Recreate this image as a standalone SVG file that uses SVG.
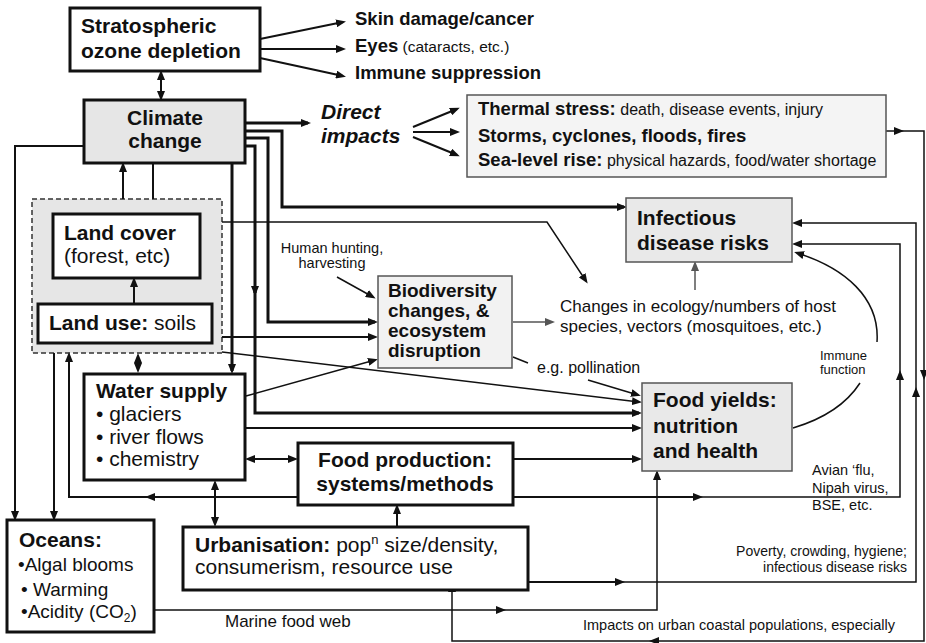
<svg xmlns="http://www.w3.org/2000/svg" width="926" height="643" viewBox="0 0 926 643">
<defs>
<marker id="ah" markerUnits="userSpaceOnUse" markerWidth="10" markerHeight="8" viewBox="0 0 10 8" refX="7" refY="4" orient="auto-start-reverse"><path d="M0,0 L10,4 L0,8 z" fill="#111"/></marker>
<marker id="ahg" markerUnits="userSpaceOnUse" markerWidth="10" markerHeight="8" viewBox="0 0 10 8" refX="7" refY="4" orient="auto-start-reverse"><path d="M0,0 L10,4 L0,8 z" fill="#555"/></marker>
</defs>
<style>
text{font-family:"Liberation Sans",Arial,sans-serif;fill:#111}
.b{font-weight:bold}
.box{fill:#fff;stroke:#111;stroke-width:3}
.gbox{stroke:#555;stroke-width:1.5}
#connectors path{fill:none;stroke:#111;stroke-width:2}
#connectors path.w3{stroke-width:3}
#connectors path.w15{stroke-width:1.5}
#connectors path.gr{stroke:#555;stroke-width:1.5}
.e{marker-end:url(#ah)}
.s{marker-start:url(#ah)}
.eg{marker-end:url(#ahg)}
.f21{font-size:21px}
.f19{font-size:19px}
.f18{font-size:18.5px}
.f17{font-size:17px}
.f16{font-size:16px}
.f15{font-size:15.5px}
.f14{font-size:14.5px}
.f13{font-size:13px}
</style>
<rect width="926" height="643" fill="#fff"/>

<g id="land">
<rect x="32" y="199" width="190" height="154" fill="#e6e6e6" stroke="#333" stroke-width="1.5" stroke-dasharray="5,3"/>
</g>

<g id="connectors">
<path class="e" d="M260,39 L343,22"/>
<path class="e" d="M260,49 L343,49"/>
<path class="e" d="M260,58 L343,76"/>
<path class="e s" d="M161,73 L161,98"/>
<path class="w3 e" d="M245,123 L308,123"/>
<path class="e" d="M413,127 L457,109"/>
<path class="e" d="M413,132 L457,132"/>
<path class="e" d="M413,137 L457,155"/>
<path class="w3 e" d="M245,131 H282 V207 H624"/>
<path class="w3 e" d="M245,138 H268 V322 H375"/>
<path class="w3 e" d="M245,146 H255 V293"/>
<path class="w3 e" d="M255,290 V413 H639"/>
<path class="w3 e" d="M232,163 V371"/>
<path class="e" d="M84,146 H15 V518"/>
<path class="e" d="M123,199 V165"/>
<path d="M153,163 V199"/>
<path class="w15 e" d="M222,222 H547 L586,281"/>
<path class="e" d="M222,337 H375"/>
<path class="w15 e" d="M222,352 L639,402"/>
<path class="e" d="M134,304 V280"/>
<path class="e s" d="M138,356 V370"/>
<path class="e" d="M54,353 V518"/>
<path class="e" d="M298,497 H148"/>
<path class="e" d="M150,497 H69 V355"/>
<path class="w15 e" d="M246,396 L375,360"/>
<path class="e" d="M246,428 H639"/>
<path class="e s" d="M248,459 H295"/>
<path class="e s" d="M215,483 V524"/>
<path class="e" d="M513,459 H639"/>
<path class="e" d="M513,497 H700"/>
<path class="w15 e" d="M697,497 H900 V373"/>
<path class="w15 e" d="M900,376 V244 H795"/>
<path class="e" d="M397,527 V507"/>
<path class="e" d="M528,582 H622"/>
<path class="w15 e" d="M619,582 H916 V390"/>
<path class="w15 e" d="M916,393 V223 H795"/>
<path class="w15 e" d="M154,610 H503"/>
<path class="w15 e" d="M500,610 H657 V473"/>
<path class="w15 e" d="M886,131 H901"/>
<path class="w15 e" d="M898,131 H924 V377"/>
<path class="w15 e" d="M924,374 V641 H652"/>
<path class="w15 e" d="M655,641 H452 V585"/>
<path class="gr eg" d="M513,322 H552"/>
<path class="gr eg" d="M695,290 V264"/>
<path class="w15" d="M513,357 L528,363"/>
<path class="w15 e" d="M588,380 L638,395"/>
<path class="w15 e" d="M337,277 L373,297"/>
<path class="w15" d="M793,428 Q840,414 860,383"/>
<path class="w15 e" d="M877,342 C880,298 845,268 797,253"/>
</g>

<g id="ozone">
<rect class="box" x="70" y="8" width="190" height="63"/>
<text class="b f21" x="81" y="33">Stratospheric</text>
<text class="b f21" x="81" y="58">ozone depletion</text>
</g>

<g id="climate">
<rect class="box" x="84" y="100" width="161" height="63" style="fill:#e6e6e6"/>
<text class="b f21" x="165" y="125" text-anchor="middle">Climate</text>
<text class="b f21" x="165" y="148" text-anchor="middle">change</text>
</g>

<g id="ozone-outcomes">
<text class="b f18" x="355" y="25">Skin damage/cancer</text>
<text class="b f18" x="355" y="52">Eyes<tspan class="f15" font-weight="normal"> (cataracts, etc.)</tspan></text>
<text class="b f18" x="355" y="79">Immune suppression</text>
</g>

<g id="direct">
<text class="b f21" x="321" y="119" font-style="italic">Direct</text>
<text class="b f21" x="321" y="143" font-style="italic">impacts</text>
</g>

<g id="direct-box">
<rect class="gbox" x="467" y="95" width="419" height="82" fill="#f4f4f4"/>
<text class="b f18" x="478" y="115">Thermal stress:<tspan class="f16" font-weight="normal"> death, disease events, injury</tspan></text>
<text class="b f18" x="478" y="142">Storms, cyclones, floods, fires</text>
<text class="b f18" x="478" y="166">Sea-level rise:<tspan class="f16" font-weight="normal"> physical hazards, food/water shortage</tspan></text>
</g>

<g id="infectious">
<rect class="gbox" x="626" y="198" width="166" height="64" fill="#e9e9e9"/>
<text class="b f21" x="637" y="225">Infectious</text>
<text class="b f21" x="637" y="250">disease risks</text>
</g>

<g id="land-cover">
<rect class="box" x="53" y="214" width="147" height="64"/>
<text class="b f21" x="64" y="240">Land cover</text>
<text class="f21" x="64" y="263">(forest, etc)</text>
</g>

<g id="land-use">
<rect class="box" x="38" y="304" width="174" height="39"/>
<text class="b f21" x="49" y="330">Land use:<tspan font-weight="normal"> soils</tspan></text>
</g>

<g id="hunting">
<text class="f14" x="332" y="253" text-anchor="middle">Human hunting,</text>
<text class="f14" x="332" y="268" text-anchor="middle">harvesting</text>
</g>

<g id="biodiversity">
<rect class="gbox" x="378" y="276" width="134" height="92" fill="#f2f2f2"/>
<text class="b f19" x="388" y="297">Biodiversity</text>
<text class="b f19" x="388" y="317">changes, &amp;</text>
<text class="b f19" x="388" y="337">ecosystem</text>
<text class="b f19" x="388" y="357">disruption</text>
</g>

<g id="ecology">
<text class="f17" x="560" y="312">Changes in ecology/numbers of host</text>
<text class="f17" x="560" y="332">species, vectors (mosquitoes, etc.)</text>
</g>

<g id="pollination">
<text class="f16" x="537" y="373">e.g. pollination</text>
</g>

<g id="water">
<rect class="box" x="84" y="374" width="161" height="106"/>
<text class="b f21" x="96" y="398">Water supply</text>
<text class="f21" x="96" y="421">• glaciers</text>
<text class="f21" x="96" y="444">• river flows</text>
<text class="f21" x="96" y="466">• chemistry</text>
</g>

<g id="food-production">
<rect class="box" x="298" y="443" width="215" height="62"/>
<text class="b f21" x="405" y="467" text-anchor="middle">Food production:</text>
<text class="b f21" x="405" y="491" text-anchor="middle">systems/methods</text>
</g>

<g id="food-yields">
<rect class="gbox" x="642" y="383" width="150" height="88" fill="#e9e9e9"/>
<text class="b f21" x="653" y="407">Food yields:</text>
<text class="b f21" x="653" y="433">nutrition</text>
<text class="b f21" x="653" y="458">and health</text>
</g>

<g id="immune">
<text class="f13" x="820" y="360">Immune</text>
<text class="f13" x="820" y="374">function</text>
</g>

<g id="avian">
<text class="f14" x="812" y="475">Avian ‘flu,</text>
<text class="f14" x="812" y="493">Nipah virus,</text>
<text class="f14" x="812" y="510">BSE, etc.</text>
</g>

<g id="poverty">
<text x="907" y="556" text-anchor="end" font-size="14px">Poverty, crowding, hygiene;</text>
<text x="907" y="572" text-anchor="end" font-size="14px">infectious disease risks</text>
</g>

<g id="coastal">
<text class="f14" x="583" y="630">Impacts on urban coastal populations, especially</text>
</g>

<g id="oceans">
<rect class="box" x="7" y="520" width="147" height="112"/>
<text class="b f21" x="19" y="547">Oceans:</text>
<text class="f19" x="18" y="571">•Algal blooms</text>
<text class="f19" x="21" y="596">• Warming</text>
<text class="f19" x="21" y="618">•Acidity (CO<tspan font-size="12px" dy="4">2</tspan><tspan dy="-4">)</tspan></text>
</g>

<g id="marine">
<text class="f17" x="225" y="627">Marine food web</text>
</g>

<g id="urbanisation">
<rect class="box" x="183" y="527" width="345" height="63"/>
<text class="b f21" x="195" y="552">Urbanisation:<tspan font-weight="normal"> pop</tspan><tspan font-weight="normal" font-size="13px" dy="-8">n</tspan><tspan font-weight="normal" dy="8"> size/density,</tspan></text>
<text class="f21" x="195" y="574">consumerism, resource use</text>
</g>
</svg>
